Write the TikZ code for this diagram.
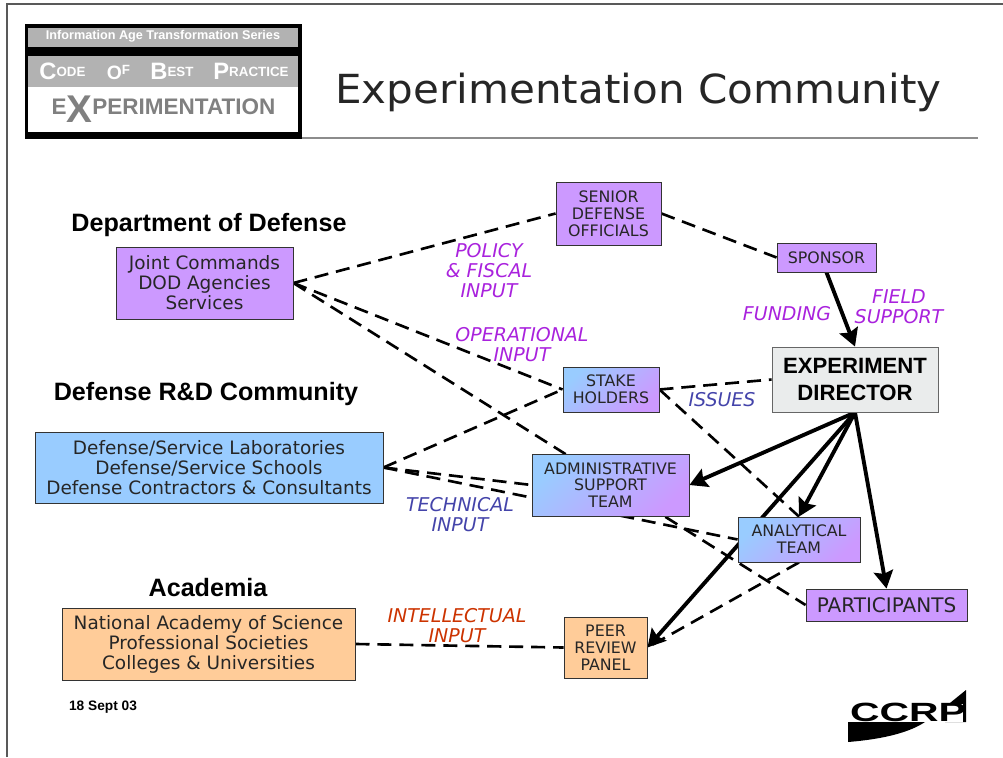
\documentclass[tikz,border=0pt]{standalone}
\usepackage{fontspec}
\setmainfont{DejaVu Sans}
\newfontfamily\arialfont{Liberation Sans}
\usetikzlibrary{arrows.meta,backgrounds}
\definecolor{boxpurple}{HTML}{CC99FF}
\definecolor{boxblue}{HTML}{99CCFF}
\definecolor{boxorange}{HTML}{FFCC99}
\definecolor{boxgrey}{HTML}{EAECEC}
\definecolor{inkpurple}{HTML}{A922DD}
\definecolor{inkblue}{HTML}{4444AA}
\definecolor{inkred}{HTML}{CC3300}
\definecolor{bandgrey}{HTML}{B2B2B2}
\definecolor{xgrey}{HTML}{808080}
\tikzset{
    box/.style={draw=black!80, line width=0.5pt, align=center, text=black!85, inner sep=0pt, font=\fontsize{10.5}{11.4}\selectfont},
    smallbox/.style={box, font=\fontsize{9}{9.6}\selectfont},
    dashline/.style={dashed, dash pattern=on 8pt off 4.5pt, line width=1.5pt},
    boldline/.style={line width=2.2pt, -{Stealth[length=10pt,width=11pt,inset=1.5pt]}},
    note/.style={align=center, yshift=-0.5pt, font=\fontsize{10.8}{11.4}\selectfont\itshape},
    heading/.style={font=\arialfont\bfseries\fontsize{14.3}{16}\selectfont},
    mixfill/.style={top color=boxblue, bottom color=boxpurple, shading angle=45},
    logoword/.style={text=white, font=\arialfont\bfseries},
}
\newcommand{\capword}[2]{\fontsize{13.5}{14}\selectfont #1\raisebox{1.7pt}{\fontsize{7.6}{9}\selectfont #2}}
\begin{document}
\begin{tikzpicture}
    \useasboundingbox (0,0) rectangle (20.06,15.14);
    % page edge and title rule
    \draw[black!65, line width=0.6pt] (0.14,0) -- (0.14,15.06) -- (20.06,15.06);
    \draw[black!45, line width=1pt] (6.04,12.38) -- (19.56,12.38);

    % series block
    \fill[black] (0.50,12.36) rectangle (6.04,14.66);
    \fill[bandgrey] (0.56,14.20) rectangle (5.96,14.58);
    \fill[bandgrey] (0.56,13.40) rectangle (5.96,14.02);
    \fill[white] (0.56,12.50) rectangle (5.96,13.40);
    \node[logoword, font=\arialfont\bfseries\fontsize{7.2}{8}\selectfont] (series) at (3.26,14.42) {Information Age Transformation Series};
    \node[logoword] (code) at (1.25,13.71) {\capword{C}{ODE}};
    \node[logoword] (of) at (2.37,13.69) {\fontsize{11}{12}\selectfont O\raisebox{3pt}{\fontsize{7.6}{9}\selectfont F}};
    \node[logoword] (best) at (3.44,13.71) {\capword{B}{EST}};
    \node[logoword] (practice) at (5.02,13.71) {\capword{P}{RACTICE}};
    \node[text=xgrey, font=\arialfont\bfseries\fontsize{12.8}{14}\selectfont] (expt) at (3.27,12.95) {E\raisebox{-4.5pt}{\fontsize{22}{23}\selectfont X}PERIMENTATION};

    \node[xscale=1.05, font=\fontsize{22.8}{24}\selectfont, text=black!85] (title) at (12.77,13.30) {Experimentation Community};

    \node[heading] (dod) at (4.18,10.63) {Department of Defense};
    \node[heading] (rnd) at (4.12,7.27) {Defense R\&D Community};
    \node[heading] (acad) at (4.16,3.39) {Academia};

    \node[smallbox, fill=boxpurple, minimum width=2.10cm, minimum height=1.26cm] (senior) at (12.17,10.87) {SENIOR\\DEFENSE\\OFFICIALS};
    \node[smallbox, fill=boxpurple, minimum width=1.98cm, minimum height=0.58cm] (sponsor) at (16.53,9.99) {SPONSOR};
    \node[box, fill=boxpurple, minimum width=3.54cm, minimum height=1.44cm] (joint) at (4.09,9.48) {Joint Commands\\DOD Agencies\\Services};
    \node[smallbox, mixfill, minimum width=1.92cm, minimum height=0.90cm] (stake) at (12.22,7.35) {STAKE\\HOLDERS};
    \node[box, draw=black!60, fill=boxgrey, text=black, minimum width=3.32cm, minimum height=1.30cm, font=\arialfont\bfseries\fontsize{12.6}{15.4}\selectfont] (director) at (17.10,7.55) {EXPERIMENT\\DIRECTOR};
    \node[box, fill=boxblue, minimum width=6.96cm, minimum height=1.42cm] (labs) at (4.18,5.79) {Defense/Service Laboratories\\Defense/Service Schools\\Defense Contractors \& Consultants};
    \node[smallbox, mixfill, minimum width=3.14cm, minimum height=1.24cm] (admin) at (12.21,5.44) {ADMINISTRATIVE\\SUPPORT\\TEAM};
    \node[smallbox, mixfill, minimum width=2.44cm, minimum height=0.90cm] (analytical) at (15.98,4.35) {ANALYTICAL\\TEAM};
    \node[box, fill=boxpurple, minimum width=3.22cm, minimum height=0.64cm, font=\fontsize{11.4}{12}\selectfont] (participants) at (17.73,3.04) {PARTICIPANTS};
    \node[smallbox, fill=boxorange, minimum width=1.66cm, minimum height=1.22cm] (peer) at (12.11,2.19) {PEER\\REVIEW\\PANEL};
    \node[box, fill=boxorange, minimum width=5.86cm, minimum height=1.44cm] (academy) at (4.17,2.26) {National Academy of Science\\Professional Societies\\Colleges \& Universities};

    \begin{scope}[on background layer]
        \foreach \a/\b in {joint.east/senior.west, senior.east/sponsor.west, joint.east/stake.west, joint.east/participants.west, labs.east/stake.west, labs.east/admin.west, labs.east/analytical.west, stake.east/director.west, stake.east/analytical.north, analytical.south/peer.east, academy.east/peer.west} {
                \draw[dashline] (\a) -- (\b);
            }
        \foreach \b in {admin.east, analytical.north, participants.north, peer.east} {
                \draw[boldline] (director.south) -- (\b);
            }
        \draw[boldline] (sponsor.south) -- (director.north);
    \end{scope}

    \node[note, text=inkpurple] (policy) at (9.78,9.74) {POLICY\\\& FISCAL\\INPUT};
    \node[note, text=inkpurple] (operational) at (10.44,8.26) {OPERATIONAL\\INPUT};
    \node[note, text=inkpurple] (funding) at (15.74,8.88) {FUNDING};
    \node[note, text=inkpurple] (field) at (17.98,9.02) {FIELD\\SUPPORT};
    \node[note, text=inkblue] (issues) at (14.44,7.16) {ISSUES};
    \node[note, text=inkblue] (technical) at (9.20,4.86) {TECHNICAL\\INPUT};
    \node[note, text=inkred] (intellectual) at (9.14,2.64) {INTELLECTUAL\\INPUT};

    \node[font=\arialfont\bfseries\fontsize{7.8}{9}\selectfont] (date) at (2.06,0.99) {18 Sept 03};

    % logo
    \fill[black] (16.96,0.70) -- (16.96,0.30) .. controls (17.70,0.36) and (18.20,0.50) .. (18.50,0.70) -- cycle;
    \fill[black] (18.90,1.00) -- (19.32,1.34) -- (19.32,0.70) -- (18.90,0.70) -- cycle;
    \fill[white] (18.76,0.70) rectangle (19.26,1.07);
    \node[xscale=1.55, font=\arialfont\bfseries\fontsize{15}{16}\selectfont] (ccrp) at (18.16,0.90) {CCRP};
\end{tikzpicture}
\end{document}
